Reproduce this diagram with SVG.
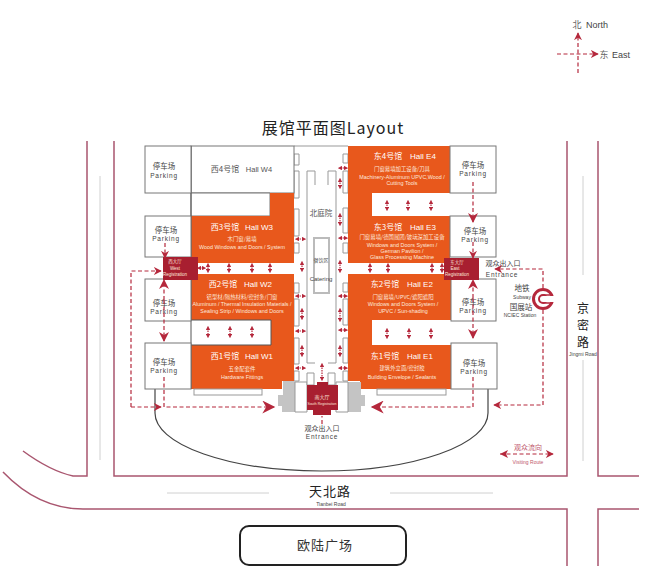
<svg xmlns="http://www.w3.org/2000/svg" width="650" height="577" viewBox="0 0 650 577">
<style>
text{font-family:"Liberation Sans","Noto Sans CJK SC",sans-serif;text-anchor:middle}
.cn{font-family:"Noto Sans CJK SC",sans-serif}
.or{fill:#e8581c}
.box{fill:#fff;stroke:#777;stroke-width:1}
.thin{fill:#fff;stroke:#999;stroke-width:1}
.road{fill:none;stroke:#a9566f;stroke-width:1.5}
.gl{fill:none;stroke:#d0d0d0;stroke-width:1}
.d{fill:none;stroke:#b5283c;stroke-width:1.200;stroke-dasharray:4 2.500}
.s{fill:none;stroke:#b5283c;stroke-width:1.200;stroke-dasharray:1.500 1;marker-start:url(#sa);marker-end:url(#sa)}
.p{font-size:7.500px;fill:#444}
.pe{font-size:6.500px;fill:#444;letter-spacing:.8px}
.h{font-size:8px;fill:#fff}
.t{font-size:5.400px;fill:#fde8dc}
.dark{fill:#a81f30}
</style>
<defs>
<marker id="a" viewBox="0 0 10 10" refX="9" refY="5" markerWidth="8" markerHeight="8" markerUnits="userSpaceOnUse" orient="auto"><path d="M0 0L10 5L0 10L3 5Z" fill="#b5283c"/></marker>
<marker id="m" viewBox="0 0 10 10" refX="9" refY="5" markerWidth="10" markerHeight="10" markerUnits="userSpaceOnUse" orient="auto"><path d="M0 0L10 5L0 10L3 5Z" fill="#b5283c"/></marker>
<marker id="sa" viewBox="0 0 10 10" refX="5" refY="5" markerWidth="4.500" markerHeight="4.500" markerUnits="userSpaceOnUse" orient="auto-start-reverse"><path d="M0 0L10 5L0 10Z" fill="#b5283c"/></marker>
<marker id="big" viewBox="0 0 10 10" refX="9" refY="5" markerWidth="15" markerHeight="13" markerUnits="userSpaceOnUse" orient="auto"><path d="M0 0L10 5L0 10L3 5Z" fill="#b5283c"/></marker>
</defs>
<rect width="650" height="577" fill="#fff"/>

<g id="roads">
<path class="road" d="M114 141V476H567V141"/>
<path class="road" d="M87 141V476H73C55 472 38 462 23 451"/>
<path class="road" d="M598 141V476H639"/>
<path class="road" d="M3 472C25 495 50 509 83 509H567V566"/>
<path class="road" d="M639 509H598V566"/>
<path class="gl" d="M100 176V460M583 176V275M583 360V461M167 493H269M390 493H493"/>
</g>

<g id="site">
<path d="M155 389V413A166.500 58 0 0 0 488 413V389" fill="none" stroke="#444" stroke-width="1.200"/>
</g>

<g id="courtyard">
<path d="M294 146H348" fill="none" stroke="#999"/>
<path class="thin" d="M294 154h5v11h-5zM294 171h5v27h-5zM294 209h5v27h-5zM294 243h5v10h-5zM294 283h5v10h-5zM294 299h5v27h-5zM294 338h5v26h-5zM294 371h5v10h-5z"/>
<path class="thin" d="M343 154h5v9h-5zM343 171h5v22h-5zM343 208h5v25h-5zM343 243h5v10h-5zM343 283h5v9h-5zM343 299h5v26h-5zM343 338h5v25h-5zM343 371h5v10h-5z"/>
<path d="M307 363V171H315V185M336 363V171H328V185M307 363H315M328 363H336" fill="none" stroke="#999" stroke-width="1"/>
<rect x="314" y="238" width="15" height="55" fill="#fff" stroke="#bbb" stroke-width="2"/>
<text class="cn" x="321" y="216" font-size="7.500" fill="#555">北庭院</text>
<text class="cn" x="321" y="262" font-size="5" fill="#555">餐饮区</text>
<text x="321" y="281" font-size="6" fill="#444">Catering</text>
</g>

<g id="hall-w4"><rect class="box" x="191" y="146" width="103" height="47"/><path class="box" d="M191 193H270V216H191Z"/><text class="cn" x="225" y="172" font-size="8" fill="#555">西4号馆</text><text x="259" y="172" font-size="7.500" fill="#555">Hall W4</text></g>
<g id="hall-w3"><path class="or" d="M191 216H270V193H294V263H191Z"/><text class="h cn" x="225" y="230">西3号馆</text><text class="h" x="259" y="230">Hall W3</text><text class="t cn" x="242" y="241">木门窗/幕墙</text><text class="t" x="242" y="249">Wood Windows and Doors / System</text></g>
<g id="hall-w2"><path class="or" d="M191 274H294V381H282V389H191V345H271V320H191Z"/><text class="h cn" x="223" y="287">西2号馆</text><text class="h" x="258" y="287">Hall W2</text><text class="t cn" x="242" y="299">铝型材/隔热材料/密封条/门窗</text><text class="t" x="242" y="306">Aluminum / Thermal Insulation Materials /</text><text class="t" x="242" y="313">Sealing Strip / Windows and Doors</text></g>
<g id="hall-w1"><text class="h cn" x="225" y="359">西1号馆</text><text class="h" x="259" y="359">Hall W1</text><text class="t cn" x="242" y="371">五金配套件</text><text class="t" x="242" y="379">Hardware Fittings</text><rect class="thin" x="194" y="389" width="68" height="6"/></g>
<path d="M191 146V389M191 320H271V345H191" fill="none" stroke="#555" stroke-width="1"/>

<g id="hall-e4"><path class="or" d="M348 146H450V193H372V216H450V263H348Z"/><text class="h cn" x="388" y="159">东4号馆</text><text class="h" x="423" y="159">Hall E4</text><text class="t cn" x="402" y="171">门窗幕墙加工设备/刀具</text><text class="t" x="402" y="179">Machinery-Aluminum UPVC,Wood /</text><text class="t" x="402" y="185">Cutting Tools</text></g>
<g id="hall-e3"><text class="h cn" x="388" y="230">东3号馆</text><text class="h" x="423" y="230">Hall E3</text><text class="t cn" x="402" y="239">门窗幕墙/德国展团/玻璃深加工设备</text><text class="t" x="402" y="247">Windows and Doors System /</text><text class="t" x="402" y="253">German Pavilion /</text><text class="t" x="402" y="258.500">Glass Processing Machine</text></g>
<g id="hall-e2"><path class="or" d="M348 274H451V320H372V345H451V389H360V381H348Z"/><text class="h cn" x="385" y="287">东2号馆</text><text class="h" x="420" y="287">Hall E2</text><text class="t cn" x="403" y="299">门窗幕墙/UPVC/遮阳遮阳</text><text class="t" x="403" y="306">Windows and Doors System /</text><text class="t" x="403" y="313">UPVC / Sun-shading</text></g>
<g id="hall-e1"><text class="h cn" x="385" y="359">东1号馆</text><text class="h" x="420" y="359">Hall E1</text><text class="t cn" x="402" y="370">建筑外立面/密封胶</text><text class="t" x="402" y="379">Building Envelope / Sealants</text><rect class="thin" x="377" y="389" width="69" height="6"/></g>

<g id="parking-nw"><rect class="box" x="145" y="146" width="46" height="47"/><text class="p cn" x="164" y="169">停车场</text><text class="pe" x="164" y="178">Parking</text></g>
<g id="parking-w3"><rect class="box" x="145" y="216" width="46" height="41"/><text class="p cn" x="166" y="233">停车场</text><text class="pe" x="166" y="241">Parking</text></g>
<g id="parking-w2"><rect class="box" x="145" y="279" width="46" height="42"/><text class="p cn" x="164" y="306">停车场</text><text class="pe" x="164" y="314">Parking</text></g>
<g id="parking-w1"><rect class="box" x="145" y="343" width="46" height="46"/><text class="p cn" x="164" y="365">停车场</text><text class="pe" x="164" y="373">Parking</text></g>
<g id="parking-e4"><rect class="box" x="450" y="146" width="46" height="47"/><text class="p cn" x="473" y="168">停车场</text><text class="pe" x="473" y="176">Parking</text></g>
<g id="parking-e3"><rect class="box" x="450" y="216" width="46" height="41"/><text class="p cn" x="475" y="234">停车场</text><text class="pe" x="475" y="242">Parking</text></g>
<g id="parking-e2"><rect class="box" x="451" y="279" width="45" height="42"/><text class="p cn" x="473" y="305">停车场</text><text class="pe" x="473" y="313">Parking</text></g>
<g id="parking-e1"><rect class="box" x="451" y="343" width="46" height="46"/><text class="p cn" x="474" y="366">停车场</text><text class="pe" x="474" y="374">Parking</text></g>

<g id="south-hall">
<path d="M283 381H295V412H282V406H278V395H283Z" fill="#c4c4c4"/>
<path d="M348 382H361V395H365V406H361V412H348Z" fill="#c4c4c4"/>
<path class="thin" d="M295 382H307V412H295ZM336 382H348V412H336Z"/>
<path class="thin" d="M307 373h7v12h-7zM328 373h7v12h-7z"/>
<path d="M307 385H317V382H328V385H338V410H331V415H313V410H307Z" class="dark"/>
<text class="cn" x="322" y="399" font-size="5" fill="#fde8dc">南大厅</text>
<text x="322" y="405" font-size="3.500" fill="#fde8dc">South Registration</text>
</g>
<g id="west-registration"><rect class="dark" x="163" y="257" width="35" height="23"/><text class="cn" x="175" y="263" font-size="4.500" fill="#fde8dc">西大厅</text><text x="175" y="270" font-size="4.500" fill="#fde8dc">West</text><text x="175" y="276" font-size="4.500" fill="#fde8dc">Registration</text></g>
<g id="east-registration"><rect class="dark" x="444" y="258" width="35" height="22"/><text class="cn" x="457" y="264" font-size="4.500" fill="#fde8dc">东大厅</text><text x="455" y="270" font-size="4.500" fill="#fde8dc">East</text><text x="457" y="276" font-size="4.500" fill="#fde8dc">Registration</text></g>

<g id="subway"><circle cx="543" cy="299" r="9.500" fill="none" stroke="#b5283c" stroke-width="3"/><circle cx="543" cy="299" r="4" fill="none" stroke="#b5283c" stroke-width="2"/><rect x="543" y="296" width="12" height="6" fill="#fff"/><path d="M543 295H553M543 303H553" stroke="#b5283c" stroke-width="1.500"/>
<text class="cn" x="522" y="291" font-size="7.500" fill="#444">地铁</text><text x="522" y="299" font-size="5" fill="#444">Subway</text><text class="cn" x="521" y="310" font-size="7.500" fill="#444">国展站</text><text x="520" y="317" font-size="5" fill="#444">NCIEC Station</text></g>

<g id="labels">
<text class="cn" x="333" y="134" font-size="16" letter-spacing="1" fill="#222">展馆平面图Layout</text>
<text class="cn" x="503" y="266" font-size="7" fill="#444">观众出入口</text><text class="pe" x="502" y="277">Entrance</text>
<text class="cn" x="322" y="431" font-size="7" fill="#444">观众出入口</text><text class="pe" x="322" y="439">Entrance</text>
<text class="cn" x="583" y="313" font-size="12" fill="#222">京</text><text class="cn" x="583" y="330" font-size="12" fill="#222">密</text><text class="cn" x="583" y="347" font-size="12" fill="#222">路</text>
<text x="583" y="356" font-size="5" fill="#444">Jingmi Road</text>
<text class="cn" x="330" y="496" font-size="13" letter-spacing="1" fill="#222">天北路</text>
<text x="331" y="506" font-size="5" fill="#444">Tianbei Road</text>
<text class="cn" x="528" y="450" font-size="7" fill="#c0566a">观众流向</text>
<text x="528" y="464" font-size="5" fill="#c0566a">Visiting Route</text>
<text class="cn" x="577" y="28" font-size="9" fill="#666">北</text><text x="597" y="28" font-size="9" fill="#444">North</text>
<text class="cn" x="604" y="58" font-size="9" fill="#666">东</text><text x="621" y="58" font-size="9" fill="#444">East</text>
</g>

<g id="plaza"><rect x="240" y="526" width="166" height="39" rx="9" fill="#fff" stroke="#222" stroke-width="2"/><text class="cn" x="325" y="550" font-size="13" letter-spacing="1" fill="#333">欧陆广场</text></g>

<g id="connectors">
<path class="d" d="M578 73V33" marker-end="url(#a)"/>
<path class="d" d="M557 54H598" marker-end="url(#a)"/>
<path class="d" d="M473 182V222" marker-end="url(#m)"/>
<path class="d" d="M473 242V258" marker-end="url(#a)"/>
<path class="d" d="M473 298V280" marker-end="url(#m)"/>
<path class="d" d="M473 298V338" marker-end="url(#m)"/>
<path class="d" d="M473 377V407H372" marker-end="url(#big)"/>
<path class="d" d="M165 243V258" marker-end="url(#a)"/>
<path class="d" d="M164 300V280" marker-end="url(#m)"/>
<path class="d" d="M164 300V341" marker-end="url(#m)"/>
<path class="d" d="M164 377V407H274" marker-end="url(#big)"/>
<path class="d" d="M131 407H161" marker-end="url(#a)"/>
<path class="d" d="M131 407V271H161" marker-end="url(#a)"/>
<path class="d" d="M543 288V269H495" marker-end="url(#a)"/>
<path class="d" d="M543 310V405H494" marker-end="url(#a)"/>
<path class="d" d="M322 424V416"/>
<path class="d" d="M500 454H553" marker-end="url(#a)"/>
<path d="M508 450L500 454L508 458L506 454Z" fill="#b5283c"/>
<path class="s" d="M208 265V271"/><path class="s" d="M229 265V271"/><path class="s" d="M252 265V271"/><path class="s" d="M270 265V271"/>
<path class="s" d="M208 328V336"/><path class="s" d="M230 328V336"/><path class="s" d="M252 328V336"/>
<path class="s" d="M370 265V271"/><path class="s" d="M388 265V271"/><path class="s" d="M432 265V271"/><path class="s" d="M442 265V271"/>
<path class="s" d="M387 202V209"/><path class="s" d="M408 202V209"/><path class="s" d="M431 202V209"/>
<path class="s" d="M387 330V337"/><path class="s" d="M409 330V337"/><path class="s" d="M431 330V337"/>
<path class="s" d="M302 263V270"/><path class="s" d="M302 310V318"/><path class="s" d="M302 347V355"/>
<path class="s" d="M340 180V187"/><path class="s" d="M340 215V224"/><path class="s" d="M340 262V271"/><path class="s" d="M340 310V320"/><path class="s" d="M340 347V355"/>
<path class="s" d="M297 239H304"/><path class="s" d="M297 296H304"/><path class="s" d="M297 331H304"/><path class="s" d="M297 368H304"/>
<path class="s" d="M340 168H346"/><path class="s" d="M340 238H346"/><path class="s" d="M340 296H346"/><path class="s" d="M340 330H346"/><path class="s" d="M340 368H346"/>
<path class="s" d="M322 365V379"/>
<path class="s" d="M204 268H199"/>
</g>
</svg>
